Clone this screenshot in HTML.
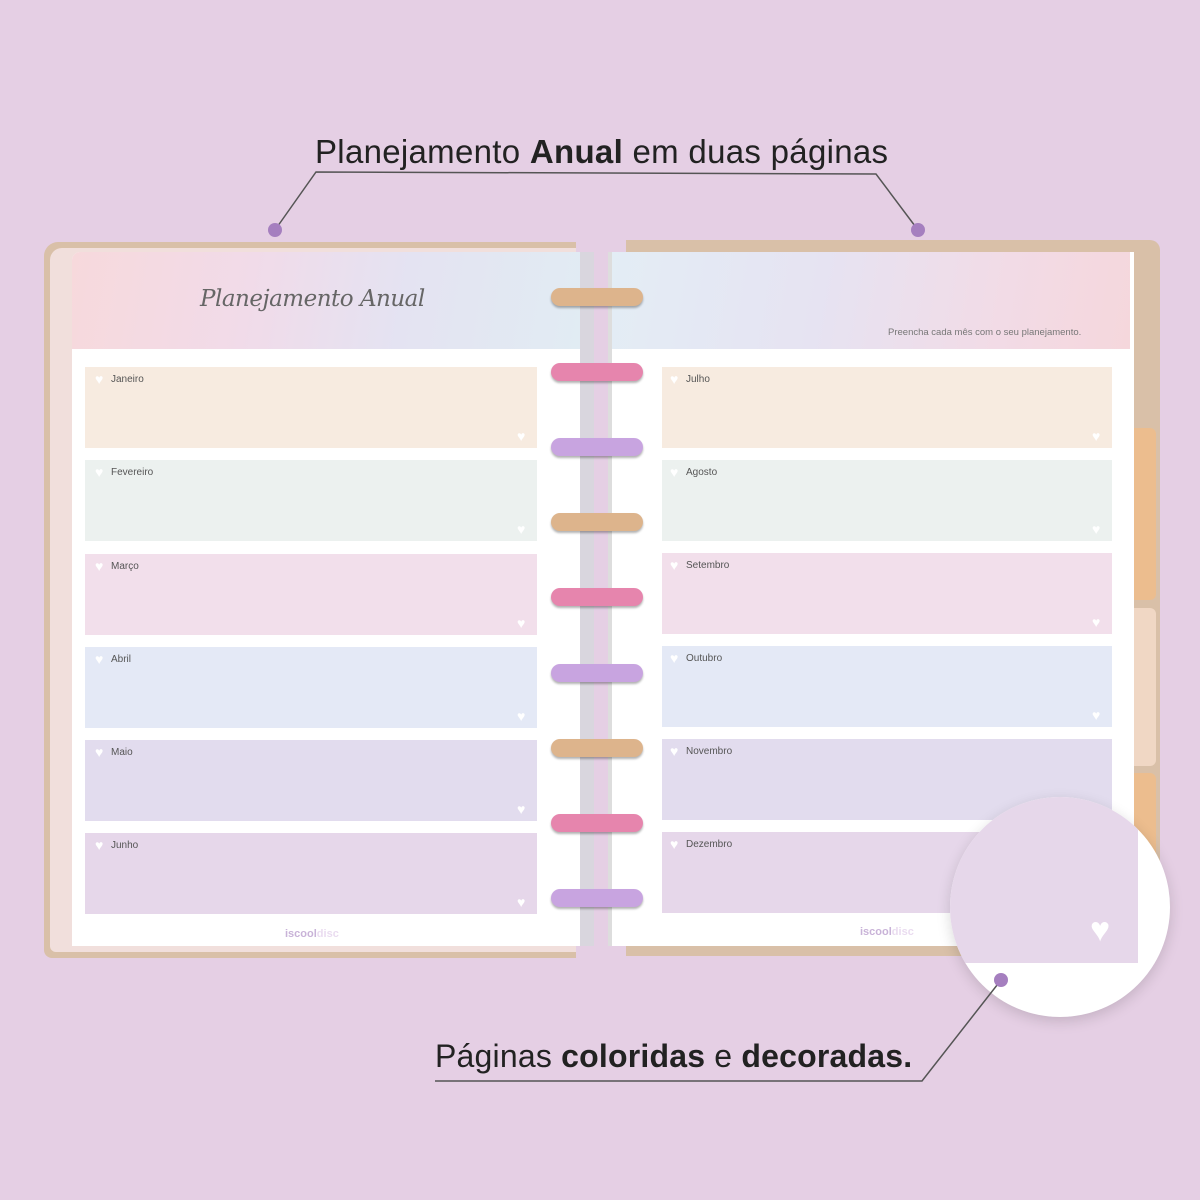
<!DOCTYPE html><html><head><style>
body{margin:0;width:1200px;height:1200px;background:#e5cfe4;position:relative;overflow:hidden;font-family:"Liberation Sans",sans-serif}
.a{position:absolute}
.box{position:absolute;font-size:10px;color:#555}
.box span{position:absolute;left:26px;top:7px}
.h{position:absolute;width:12px;height:11px;}
.h:before{content:"♥";position:absolute;color:#fff;font-size:14px;line-height:11px}
.ring{position:absolute;width:92px;height:18px;border-radius:9px;box-shadow:0 2px 2px rgba(0,0,0,.3)}
</style></head><body>
<div class="a" style="left:44px;top:242px;width:532px;height:716px;background:#d9c0a8;border-radius:14px 0 0 8px"></div>
<div class="a" style="left:50px;top:248px;width:526px;height:704px;background:#f1dfdc;border-radius:12px 0 0 6px"></div>
<div class="a" style="left:626px;top:240px;width:534px;height:716px;background:#d9c0a8;border-radius:0 10px 8px 0"></div>
<div class="a" style="left:1128px;top:428px;width:28px;height:172px;background:#ecbd8e;border-radius:0 6px 6px 0"></div>
<div class="a" style="left:1128px;top:608px;width:28px;height:158px;background:#f0d7c4;border-radius:0 6px 6px 0"></div>
<div class="a" style="left:1128px;top:773px;width:28px;height:120px;background:#ecbd8e;border-radius:0 6px 6px 0"></div>
<div class="a" style="left:72px;top:252px;width:510px;height:694px;background:#fff;border-radius:8px 0 0 0"></div>
<div class="a" style="left:72px;top:252px;width:510px;height:97px;background:linear-gradient(100deg,#f7d9dc 0%,#f1dbe9 35%,#e4e3f2 65%,#e1ecf3 100%);border-radius:8px 0 0 0"></div>
<div class="a" style="left:580px;top:252px;width:14px;height:694px;background:#d9d6de"></div>
<div class="a" style="left:608px;top:252px;width:522px;height:694px;background:#fff;border-left:4px solid #ddd"></div>
<div class="a" style="left:612px;top:252px;width:518px;height:97px;background:linear-gradient(100deg,#e3edf5 0%,#e6e3f2 40%,#f2dbe6 75%,#f5d7dc 100%)"></div>
<div class="a" style="left:200px;top:286px;font-family:'DejaVu Serif',serif;font-style:italic;font-size:23px;color:#666;letter-spacing:-0.5px">Planejamento Anual</div>
<div class="a" style="left:888px;top:327px;font-size:9.5px;color:#777">Preencha cada mês com o seu planejamento.</div>
<div class="a" style="left:285px;top:928px;font-size:11px;color:#c9b3d8;font-weight:bold">iscool<span style="color:#eadcf0">disc</span></div>
<div class="a" style="left:860px;top:926px;font-size:11px;color:#c9b3d8;font-weight:bold">iscool<span style="color:#eadcf0">disc</span></div>
<!-- left boxes -->
<div class="box" style="left:85px;top:367px;width:452px;height:81px;background:#f7ebe0"><i class="h" style="left:10px;top:7px"></i><span>Janeiro</span><i class="h" style="right:8px;bottom:6px"></i></div>
<div class="box" style="left:85px;top:460px;width:452px;height:81px;background:#ecf1ef"><i class="h" style="left:10px;top:7px"></i><span>Fevereiro</span><i class="h" style="right:8px;bottom:6px"></i></div>
<div class="box" style="left:85px;top:554px;width:452px;height:81px;background:#f2dfeb"><i class="h" style="left:10px;top:7px"></i><span>Março</span><i class="h" style="right:8px;bottom:6px"></i></div>
<div class="box" style="left:85px;top:647px;width:452px;height:81px;background:#e4e9f6"><i class="h" style="left:10px;top:7px"></i><span>Abril</span><i class="h" style="right:8px;bottom:6px"></i></div>
<div class="box" style="left:85px;top:740px;width:452px;height:81px;background:#e2dcee"><i class="h" style="left:10px;top:7px"></i><span>Maio</span><i class="h" style="right:8px;bottom:6px"></i></div>
<div class="box" style="left:85px;top:833px;width:452px;height:81px;background:#e6d7ea"><i class="h" style="left:10px;top:7px"></i><span>Junho</span><i class="h" style="right:8px;bottom:6px"></i></div>
<!-- right boxes -->
<div class="box" style="left:662px;top:367px;width:450px;height:81px;background:#f7ebe0"><i class="h" style="left:8px;top:7px"></i><span style="left:24px">Julho</span><i class="h" style="right:8px;bottom:6px"></i></div>
<div class="box" style="left:662px;top:460px;width:450px;height:81px;background:#ecf1ef"><i class="h" style="left:8px;top:7px"></i><span style="left:24px">Agosto</span><i class="h" style="right:8px;bottom:6px"></i></div>
<div class="box" style="left:662px;top:553px;width:450px;height:81px;background:#f2dfeb"><i class="h" style="left:8px;top:7px"></i><span style="left:24px">Setembro</span><i class="h" style="right:8px;bottom:6px"></i></div>
<div class="box" style="left:662px;top:646px;width:450px;height:81px;background:#e4e9f6"><i class="h" style="left:8px;top:7px"></i><span style="left:24px">Outubro</span><i class="h" style="right:8px;bottom:6px"></i></div>
<div class="box" style="left:662px;top:739px;width:450px;height:81px;background:#e2dcee"><i class="h" style="left:8px;top:7px"></i><span style="left:24px">Novembro</span><i class="h" style="right:8px;bottom:6px"></i></div>
<div class="box" style="left:662px;top:832px;width:450px;height:81px;background:#e6d7ea"><i class="h" style="left:8px;top:7px"></i><span style="left:24px">Dezembro</span></div>
<!-- rings -->
<div class="ring" style="left:551px;top:288px;background:#ddb48c"></div>
<div class="ring" style="left:551px;top:363px;background:#e685ad"></div>
<div class="ring" style="left:551px;top:438px;background:#c8a4e0"></div>
<div class="ring" style="left:551px;top:513px;background:#ddb48c"></div>
<div class="ring" style="left:551px;top:588px;background:#e685ad"></div>
<div class="ring" style="left:551px;top:664px;background:#c8a4e0"></div>
<div class="ring" style="left:551px;top:739px;background:#ddb48c"></div>
<div class="ring" style="left:551px;top:814px;background:#e685ad"></div>
<div class="ring" style="left:551px;top:889px;background:#c8a4e0"></div>
<!-- zoom circle -->
<div class="a" style="left:950px;top:797px;width:220px;height:220px;border-radius:50%;background:#fff;overflow:hidden;box-shadow:0 4px 14px rgba(0,0,0,.15)">
<div class="a" style="left:0;top:0;width:188px;height:166px;background:#e6d7ea"></div>
<div class="a" style="left:140px;top:116px;color:#fff;font-size:34px;line-height:34px">♥</div></div>
<svg class="a" style="left:0;top:0" width="1200" height="1200">
<polyline points="275,230 316,172 876,174 918,230" fill="none" stroke="#555" stroke-width="1.5"/>
<polyline points="435,1081 922,1081 1001,980" fill="none" stroke="#555" stroke-width="1.5"/>
<circle cx="275" cy="230" r="7" fill="#a57fbf"/><circle cx="918" cy="230" r="7" fill="#a57fbf"/><circle cx="1001" cy="980" r="7" fill="#a57fbf"/>
</svg>
<div class="a" style="left:315px;top:133px;font-size:33px;color:#222;white-space:nowrap;letter-spacing:0.3px">Planejamento <b>Anual</b> em duas páginas</div>
<div class="a" style="left:435px;top:1038px;font-size:32px;color:#222;white-space:nowrap;letter-spacing:0.2px">Páginas <b>coloridas</b> e <b>decoradas.</b></div>
</body></html>
